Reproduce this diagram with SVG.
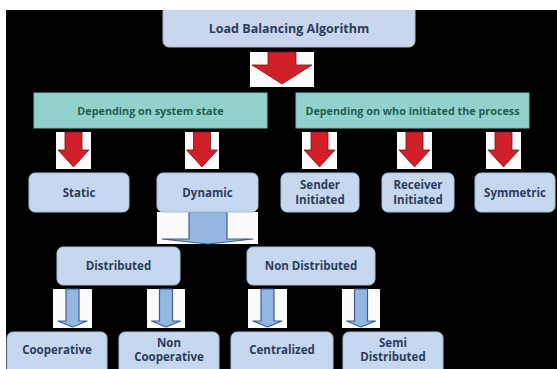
<svg xmlns="http://www.w3.org/2000/svg" width="557" height="369" viewBox="0 0 557 369">
<defs>
<style>
.bg{fill:#000}
.box{fill:#c6d8f0;stroke:#aebfd8;stroke-width:1}
.top{fill:#c9d6ee;stroke:#aebfd8;stroke-width:1}
.teal{fill:#92d2cd;stroke:#7fb9b5;stroke-width:1}
.t{font-family:"Open Sans","Liberation Sans",sans-serif;font-weight:bold;font-size:11.5px;fill:#2a3d5c;text-anchor:middle}
.tt{font-family:"Open Sans","Liberation Sans",sans-serif;font-weight:bold;font-size:10.8px;fill:#1f5e52;text-anchor:middle}
.wb{fill:#fbfbfb}
.red{fill:#d1202a;stroke:#7a1418;stroke-width:0.8;stroke-linejoin:round}
.blue{fill:#93b6e2;stroke:#3f5f8a;stroke-width:1.2;stroke-linejoin:round}
</style>
</defs>
<rect class="bg" x="0" y="0" width="557" height="369"/>

<g id="connectors">
  <g id="arrow-root">
    <rect class="wb" x="250" y="52" width="64" height="35"/>
    <polygon class="red" points="268,52 296,52 296,65 312,65 282,84 252,65 268,65"/>
  </g>
  <g id="arrow-static">
    <rect class="wb" x="56" y="132" width="35" height="37"/>
    <polygon class="red" points="65,132 82,132 82,150 89,150 73.5,167 58,150 65,150"/>
  </g>
  <g id="arrow-dynamic">
    <rect class="wb" x="185" y="132" width="34" height="37"/>
    <polygon class="red" points="193.5,132 210.5,132 210.5,150 217.5,150 202,167 186.5,150 193.5,150"/>
  </g>
  <g id="arrow-sender">
    <rect class="wb" x="302" y="132" width="35" height="37"/>
    <polygon class="red" points="311,132 328,132 328,150 335,150 319.5,167 304,150 311,150"/>
  </g>
  <g id="arrow-receiver">
    <rect class="wb" x="397" y="132" width="35" height="37"/>
    <polygon class="red" points="406,132 423,132 423,150 430,150 414.5,167 399,150 406,150"/>
  </g>
  <g id="arrow-symmetric">
    <rect class="wb" x="486" y="132" width="35" height="37"/>
    <polygon class="red" points="495,132 512,132 512,150 519,150 503.5,167 488,150 495,150"/>
  </g>
  <g id="arrow-dyn-down">
    <rect class="wb" x="157" y="212" width="101" height="32"/>
    <polygon class="blue" points="189,212 227,212 227,239 253,239 208,244 162,239 189,239"/>
  </g>
  <g id="arrow-coop">
    <rect class="wb" x="53" y="289" width="39" height="39"/>
    <polygon class="blue" points="66,289 79,289 79,321 87,321 72.5,327 58,321 66,321"/>
  </g>
  <g id="arrow-noncoop">
    <rect class="wb" x="147" y="289" width="38" height="39"/>
    <polygon class="blue" points="159.5,289 172.5,289 172.5,321 180.5,321 166,327 151.5,321 159.5,321"/>
  </g>
  <g id="arrow-central">
    <rect class="wb" x="248" y="289" width="39" height="39"/>
    <polygon class="blue" points="261,289 274,289 274,321 282,321 267.5,327 253,321 261,321"/>
  </g>
  <g id="arrow-semi">
    <rect class="wb" x="342" y="289" width="38" height="39"/>
    <polygon class="blue" points="354.5,289 367.5,289 367.5,321 375.5,321 361,327 346.5,321 354.5,321"/>
  </g>
</g>

<g id="node-root">
  <rect class="top" x="163" y="2" width="252" height="45" rx="6"/>
  <text class="t" style="font-size:12.5px" x="289" y="33">Load Balancing Algorithm</text>
</g>
<g id="node-system-state">
  <rect class="teal" x="34" y="93" width="233" height="35"/>
  <text class="tt" x="150.5" y="114.5">Depending on system state</text>
</g>
<g id="node-who-initiated">
  <rect class="teal" x="296" y="93" width="233" height="35"/>
  <text class="tt" x="412.5" y="114.5">Depending on who initiated the process</text>
</g>
<g id="node-static">
  <rect class="box" x="29" y="173" width="100" height="39" rx="6"/>
  <text class="t" x="79" y="196.5">Static</text>
</g>
<g id="node-dynamic">
  <rect class="box" x="157" y="173" width="101" height="39" rx="6"/>
  <text class="t" x="207.5" y="196.5">Dynamic</text>
</g>
<g id="node-sender">
  <rect class="box" x="281" y="173" width="78" height="39" rx="6"/>
  <text class="t" x="320" y="189">Sender</text>
  <text class="t" x="320" y="204">Initiated</text>
</g>
<g id="node-receiver">
  <rect class="box" x="382" y="173" width="72" height="39" rx="6"/>
  <text class="t" x="418" y="189">Receiver</text>
  <text class="t" x="418" y="204">Initiated</text>
</g>
<g id="node-symmetric">
  <rect class="box" x="475" y="173" width="80" height="39" rx="6"/>
  <text class="t" x="515" y="196.5">Symmetric</text>
</g>
<g id="node-distributed">
  <rect class="box" x="57" y="247" width="123" height="38" rx="6"/>
  <text class="t" x="118.5" y="270">Distributed</text>
</g>
<g id="node-non-distributed">
  <rect class="box" x="247" y="247" width="128" height="38" rx="6"/>
  <text class="t" x="311" y="270">Non Distributed</text>
</g>
<g id="node-cooperative">
  <rect class="box" x="7" y="332" width="100" height="45" rx="6"/>
  <text class="t" x="57" y="354">Cooperative</text>
</g>
<g id="node-non-cooperative">
  <rect class="box" x="119" y="332" width="100" height="45" rx="6"/>
  <text class="t" x="169" y="347">Non</text>
  <text class="t" x="169" y="361">Cooperative</text>
</g>
<g id="node-centralized">
  <rect class="box" x="231" y="332" width="102" height="45" rx="6"/>
  <text class="t" x="282" y="354">Centralized</text>
</g>
<g id="node-semi-distributed">
  <rect class="box" x="343" y="332" width="100" height="45" rx="6"/>
  <text class="t" x="393" y="347">Semi</text>
  <text class="t" x="393" y="361">Distributed</text>
</g>

<rect fill="#ffffff" x="0" y="0" width="557" height="10"/>
<rect fill="#ffffff" x="0" y="0" width="6" height="369"/>
</svg>
